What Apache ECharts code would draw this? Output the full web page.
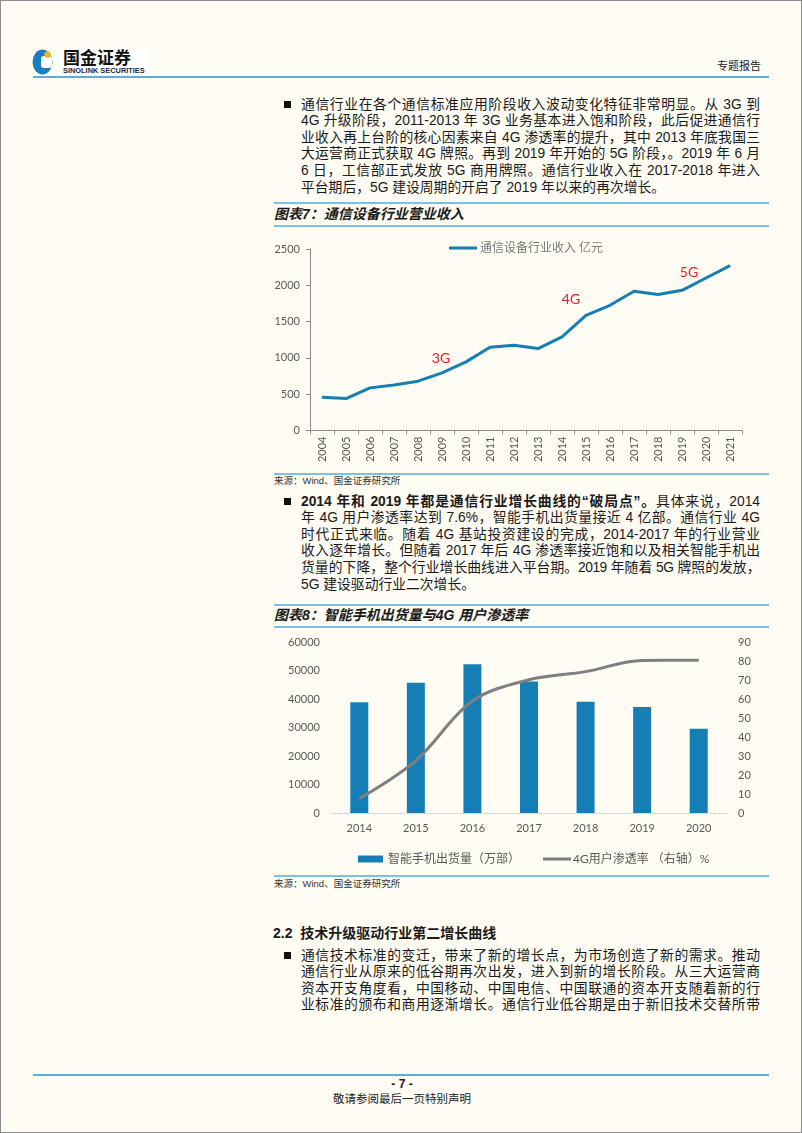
<!DOCTYPE html>
<html>
<head>
<meta charset="utf-8">
<script src="https://cdn.jsdelivr.net/npm/echarts@6/dist/echarts.min.js"></script>
<style>
html, body { margin: 0; padding: 0; background: #fff; }
#page { position: relative; width: 802px; height: 1133px; background: #fefcf3; border: 1px solid #8c8c8c; box-sizing: border-box; overflow: hidden;
  font-family: "Liberation Sans", "Noto Sans CJK SC", sans-serif; color: #1a1a1a; }
.abs { position: absolute; white-space: nowrap; }
.bluebar { position: absolute; height: 2px; background: #5aaedb; }
.rule { position: absolute; left: 273px; width: 495px; height: 1.5px; background: #7cc0e2; }
.para { position: absolute; left: 300px; width: 459px; font-size: 13.8px; line-height: 16.6px; }
.para div { text-align: justify; text-align-last: justify; }
.para div.last { text-align-last: left; }
.para div.tight { letter-spacing: -0.5px; }
.bullet { position: absolute; left: 283px; width: 7px; height: 7px; background: #111; }
.ctitle { position: absolute; left: 273px; font-size: 14px; line-height: 16px; font-weight: bold; font-style: italic; }
.src { position: absolute; left: 273px; font-size: 9.5px; line-height: 11px; color: #333; }
#chart7 { position: absolute; left: 262px; top: 228px; width: 510px; height: 244px; }
#chart8 { position: absolute; left: 262px; top: 632px; width: 510px; height: 245px; }
</style>
</head>
<body>
<div id="page">
  <!-- header -->
  <svg class="abs" style="left:31px;top:47px" width="22" height="27" viewBox="0 0 22 27">
    <ellipse cx="10.5" cy="14" rx="10" ry="12.5" fill="#1a7fc0"/>
    <rect x="9" y="8" width="11" height="12" rx="3" fill="#fff"/>
    <circle cx="15.5" cy="6.5" r="3.2" fill="#f2b21c"/>
  </svg>
  <div class="abs" style="left:59px;top:48px;width:88px;height:26px;background:#fff"></div>
  <div class="abs" style="left:62px;top:48px;font-size:17px;line-height:19px;font-weight:bold;color:#111">国金证券</div>
  <div class="abs" style="left:62px;top:66px;font-size:7.4px;line-height:8px;font-weight:bold;color:#1a2a3a">SINOLINK SECURITIES</div>
  <div class="abs" style="left:716px;top:58px;font-size:11px;line-height:14px;color:#222">专题报告</div>
  <div class="bluebar" style="left:32px;top:75px;width:736px"></div>

  <!-- paragraph 1 -->
  <div class="bullet" style="top:100px"></div>
  <div class="para" style="top:95.7px">
    <div>通信行业在各个通信标准应用阶段收入波动变化特征非常明显。从 3G 到</div>
    <div>4G 升级阶段，2011-2013 年 3G 业务基本进入饱和阶段，此后促进通信行</div>
    <div>业收入再上台阶的核心因素来自 4G 渗透率的提升，其中 2013 年底我国三</div>
    <div>大运营商正式获取 4G 牌照。再到 2019 年开始的 5G 阶段，。2019 年 6 月</div>
    <div>6 日，工信部正式发放 5G 商用牌照。通信行业收入在 2017-2018 年进入</div>
    <div class="last">平台期后，5G 建设周期的开启了 2019 年以来的再次增长。</div>
  </div>

  <!-- chart 7 -->
  <div class="rule" style="top:201px"></div>
  <div class="ctitle" style="top:205px">图表7：通信设备行业营业收入</div>
  <div class="rule" style="top:224px"></div>
  <div id="chart7"></div>
  <div class="rule" style="top:472px"></div>
  <div class="src" style="top:474px">来源：Wind、国金证券研究所</div>

  <!-- paragraph 2 -->
  <div class="bullet" style="top:497px"></div>
  <div class="para" style="top:492.7px">
    <div><b>2014 年和 2019 年都是通信行业增长曲线的“破局点”。</b>具体来说，2014</div>
    <div>年 4G 用户渗透率达到 7.6%，智能手机出货量接近 4 亿部。通信行业 4G</div>
    <div>时代正式来临。随着 4G 基站投资建设的完成，2014-2017 年的行业营业</div>
    <div>收入逐年增长。但随着 2017 年后 4G 渗透率接近饱和以及相关智能手机出</div>
    <div class="tight">货量的下降，整个行业增长曲线进入平台期。2019 年随着 5G 牌照的发放，</div>
    <div class="last">5G 建设驱动行业二次增长。</div>
  </div>

  <!-- chart 8 -->
  <div class="rule" style="top:603px"></div>
  <div class="ctitle" style="top:606px">图表8：智能手机出货量与4G 用户渗透率</div>
  <div class="rule" style="top:625px"></div>
  <div id="chart8"></div>
  <div class="rule" style="top:874px"></div>
  <div class="src" style="top:877px">来源：Wind、国金证券研究所</div>

  <!-- section 2.2 -->
  <div class="abs" style="left:272px;top:924px;font-size:14px;line-height:17px;font-weight:bold">2.2&nbsp; 技术升级驱动行业第二增长曲线</div>
  <div class="bullet" style="top:951px"></div>
  <div class="para" style="top:946.7px">
    <div>通信技术标准的变迁，带来了新的增长点，为市场创造了新的需求。推动</div>
    <div>通信行业从原来的低谷期再次出发，进入到新的增长阶段。从三大运营商</div>
    <div>资本开支角度看，中国移动、中国电信、中国联通的资本开支随着新的行</div>
    <div>业标准的颁布和商用逐渐增长。通信行业低谷期是由于新旧技术交替所带</div>
  </div>

  <!-- footer -->
  <div class="bluebar" style="left:32px;top:1073px;width:736px"></div>
  <div class="abs" style="left:0;width:802px;top:1076px;text-align:center;font-size:12px;line-height:14px;font-weight:bold">- 7 -</div>
  <div class="abs" style="left:0;width:802px;top:1091px;text-align:center;font-size:11.5px;line-height:14px;color:#222">敬请参阅最后一页特别声明</div>
</div>

<script>
// 图表7 通信设备行业营业收入（亿元）
var years7 = ['2004','2005','2006','2007','2008','2009','2010','2011','2012',
              '2013','2014','2015','2016','2017','2018','2019','2020','2021'];
var revenue = [459, 440, 587, 628, 679, 794, 945, 1147, 1174,
               1128, 1289, 1587, 1725, 1917, 1872, 1931, 2101, 2271];
var genYears = ['2009', '2014', '2019'];
var genNames = ['3G', '4G', '5G'];

// 图表8 智能手机出货量（万部）与4G用户渗透率（%）
var years8 = ['2014','2015','2016','2017','2018','2019','2020'];
var shipments = [38900, 45700, 52200, 46100, 39000, 37200, 29600];
var penetration = [7.6, 27.6, 58.9, 70.1, 74.4, 80.3, 80.4];

var FONT = 'Lato, "Noto Sans CJK SC", sans-serif';
var BLUE = '#157fb5';
var GREY_TXT = '#595959';

var genOffsets = [[-1, -2], [9, -25], [7, -5]];

var chart7 = echarts.init(document.getElementById('chart7'));
var chart8 = echarts.init(document.getElementById('chart8'));

var plain = function (v) { return String(v); };

var lineData = revenue.map(function (v, i) {
    var k = genYears.indexOf(years7[i]);
    if (k < 0) return v;
    return {
        value: v,
        label: {
            show: true,
            formatter: genNames[k],
            offset: genOffsets[k]
        }
    };
});

var option7 = {
    animation: false,
    textStyle: { fontFamily: FONT },
    grid: { left: 47, top: 20, width: 432, height: 181.5 },
    legend: {
        left: 181,
        top: 8,
        itemWidth: 28,
        itemHeight: 3,
        itemGap: 5,
        data: [{ name: '通信设备行业收入 亿元', icon: 'rect' }],
        textStyle: { color: '#7a7a7a', fontSize: 12, fontFamily: FONT, padding: [0, 0, 0, -2] }
    },
    xAxis: {
        type: 'category',
        data: years7,
        axisLine: { lineStyle: { color: '#8a8a8a', width: 1 } },
        axisTick: { show: true, length: 4, lineStyle: { color: '#8a8a8a' } },
        axisLabel: { rotate: 90, color: GREY_TXT, fontSize: 11, margin: 6, fontFamily: FONT }
    },
    yAxis: {
        type: 'value',
        min: 0,
        max: 2500,
        interval: 500,
        splitLine: { show: false },
        axisLine: { show: true, lineStyle: { color: '#8a8a8a', width: 1 } },
        axisTick: { show: true, length: 4, lineStyle: { color: '#8a8a8a' } },
        axisLabel: { color: GREY_TXT, fontSize: 11, margin: 10, fontFamily: FONT, formatter: plain }
    },
    series: [{
        name: '通信设备行业收入 亿元',
        type: 'line',
        data: lineData,
        symbol: 'circle',
        symbolSize: 1,
        showSymbol: true,
        showAllSymbol: true,
        itemStyle: { color: BLUE },
        lineStyle: { color: BLUE, width: 3 },
        label: { show: false, position: 'top', color: '#e8202a', fontSize: 14, fontFamily: FONT }
    }]
};

var option8 = {
    animation: false,
    textStyle: { fontFamily: FONT },
    grid: { left: 68, top: 9, width: 396, height: 171 },
    legend: [{
        left: 90,
        top: 215,
        itemWidth: 25,
        itemHeight: 7,
        data: [{ name: '智能手机出货量（万部）', icon: 'rect' }],
        textStyle: { color: GREY_TXT, fontSize: 12, fontFamily: FONT }
    }, {
        left: 275,
        top: 215,
        itemWidth: 28,
        itemHeight: 3,
        itemGap: 2,
        data: [{ name: '4G用户渗透率 （右轴）%', icon: 'rect' }],
        textStyle: { color: GREY_TXT, fontSize: 12, fontFamily: FONT, padding: [0, 0, 0, -3] }
    }],
    xAxis: {
        type: 'category',
        data: years8,
        axisLine: { lineStyle: { color: '#d9d9d9', width: 1 } },
        axisTick: { show: false },
        axisLabel: { color: GREY_TXT, fontSize: 11, margin: 10, fontFamily: FONT }
    },
    yAxis: [{
        type: 'value',
        min: 0,
        max: 60000,
        interval: 10000,
        splitLine: { show: false },
        axisLine: { show: false },
        axisTick: { show: false },
        axisLabel: { color: GREY_TXT, fontSize: 11, margin: 11, fontFamily: FONT, formatter: plain }
    }, {
        type: 'value',
        min: 0,
        max: 90,
        interval: 10,
        splitLine: { show: false },
        axisLine: { show: false },
        axisTick: { show: false },
        axisLabel: { color: GREY_TXT, fontSize: 11, margin: 11, fontFamily: FONT, formatter: plain }
    }],
    series: [{
        name: '智能手机出货量（万部）',
        type: 'bar',
        data: shipments,
        barWidth: 18,
        itemStyle: { color: BLUE }
    }, {
        name: '4G用户渗透率 （右轴）%',
        type: 'line',
        yAxisIndex: 1,
        data: penetration,
        smooth: 0.35,
        symbol: 'none',
        itemStyle: { color: '#7f7f7f' },
        lineStyle: { color: '#7f7f7f', width: 3 }
    }]
};

chart7.setOption(option7);
chart8.setOption(option8);
</script>
</body>
</html>
